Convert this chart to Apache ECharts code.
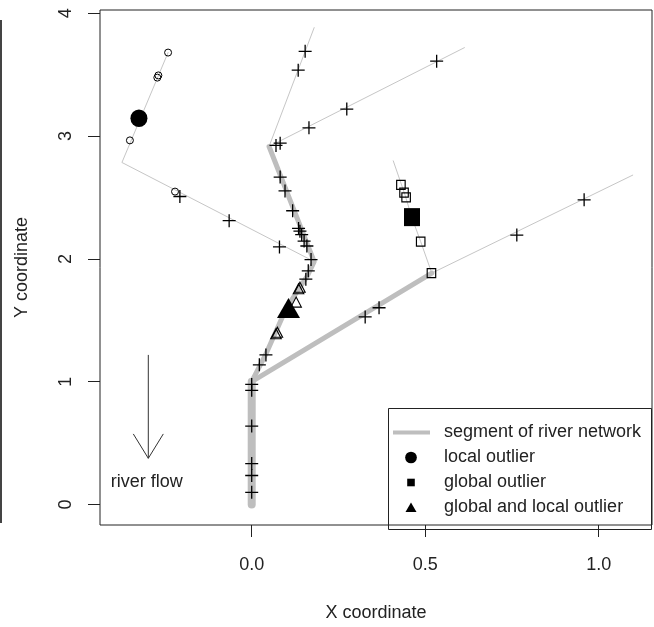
<!DOCTYPE html>
<html><head><meta charset="utf-8">
<script src="https://cdn.jsdelivr.net/npm/echarts@6/dist/echarts.min.js"></script>
<style>html,body{margin:0;padding:0;background:#fff}#c{width:654px;height:627px}</style>
</head><body><div id="c"></div>
<script>
// ---------- data (data units) ----------
const xTicks = [0, 0.5, 1.0];
const yTicks = [0, 1, 2, 3, 4];

// river network segments
const trunkThick = [[0, 0], [0, 1.0]];
const branchAThick = [[0, 1.0], [0.04, 1.22], [0.10, 1.60], [0.16, 1.86], [0.18, 1.978], [0.05, 2.915]];
const branchBThick = [[0, 1.0], [0.519, 1.884]];
const upperThin = [[0.05, 2.915], [0.18, 3.883]];
const upperRightThin = [[0.05, 2.915], [0.613, 3.72]];
const leftThin = [[0.18, 1.978], [-0.374, 2.785], [-0.241, 3.68]];
const rightThin = [[0.519, 1.884], [1.098, 2.682]];
const squareThin = [[0.519, 1.884], [0.487, 2.14], [0.461, 2.341], [0.442, 2.519], [0.408, 2.798]];

// observations (+)
const crossPoints = [
  [0, 0.978], [0, 0.93], [0, 0.639], [0, 0.333], [0, 0.236], [0, 0.099],
  [0.022, 1.137], [0.041, 1.218], [0.156, 1.835], [0.163, 1.903], [0.171, 1.994],
  [0.159, 2.105], [0.151, 2.145], [0.144, 2.198], [0.139, 2.226], [0.135, 2.248],
  [0.118, 2.392], [0.096, 2.553], [0.082, 2.666], [0.082, 2.942], [0.07, 2.924],
  [0.154, 3.69], [0.134, 3.537],
  [0.165, 3.067], [0.274, 3.22], [0.533, 3.61],
  [-0.207, 2.508], [-0.065, 2.311], [0.080, 2.097],
  [0.327, 1.527], [0.367, 1.602], [0.764, 2.194], [0.958, 2.481]
];
const openCircles = [[-0.241, 3.68], [-0.269, 3.494], [-0.272, 3.476], [-0.351, 2.965], [-0.221, 2.548]];
const localOutlier = [[-0.325, 3.145]];
const openSquares = [[0.430, 2.602], [0.439, 2.54], [0.445, 2.5], [0.487, 2.14], [0.518, 1.884]];
const globalOutlier = [[0.462, 2.34]];
const openTriangles = [[0.074, 1.403], [0.070, 1.39], [0.139, 1.769], [0.135, 1.757], [0.128, 1.648]];
const globalLocalOutlier = [[0.106, 1.601]];

// annotation (data units)
const arrowFrom = [-0.298, 1.218];
const arrowTo = [-0.298, 0.376];
const flowLabelAt = [-0.3026, 0.18];
const flowLabel = 'river flow';

const legendNames = ['segment of river network', 'local outlier', 'global outlier', 'global and local outlier'];

// ---------- styling ----------
const X_MIN = -0.4372, X_MAX = 1.1536;
const Y_MIN = -0.1669, Y_MAX = 4.0266;
const FONT = '"Liberation Sans", Arial, sans-serif';
const FS = 18;
const TXT = '#222';
const THIN = '#c6c6c6';
const THICK = '#bebebe';
const CROSS = 'path://M6.5,0V13M0,6.5H13';

function lineSeries(name, data, color, width) {
  return {
    type: 'line', name: name, data: data, symbol: 'none', showSymbol: false, silent: true, z: 2,
    lineStyle: { color: color, width: width, cap: 'round', join: 'round' },
    emphasis: { disabled: true }
  };
}
function scatter(name, data, symbol, size, fill, stroke, bw, z) {
  return {
    type: 'scatter', name: name, data: data, symbol: symbol, symbolSize: size, silent: true, z: z,
    itemStyle: { color: fill, borderColor: stroke, borderWidth: bw, opacity: 1 },
    emphasis: { disabled: true }
  };
}

const series = [
  lineSeries('net', upperThin, THIN, 1),
  lineSeries('net', upperRightThin, THIN, 1),
  lineSeries('net', leftThin, THIN, 1),
  lineSeries('net', rightThin, THIN, 1),
  lineSeries('net', squareThin, THIN, 1),
  lineSeries(legendNames[0], trunkThick, THICK, 8),
  lineSeries(legendNames[0], branchAThick, THICK, 5),
  lineSeries(legendNames[0], branchBThick, THICK, 5),
  scatter('obs', crossPoints, CROSS, 13, 'transparent', '#000', 1.3, 5),
  scatter('obsc', openCircles, 'circle', 7, 'transparent', '#000', 1, 5),
  scatter('obss', openSquares, 'rect', [8.5, 9], 'transparent', '#000', 1.2, 5),
  scatter('obst', openTriangles, 'triangle', [10.5, 10], 'transparent', '#000', 1.1, 5),
  scatter(legendNames[1], localOutlier, 'circle', [17, 17.5], '#000', '#000', 0, 6),
  scatter(legendNames[2], globalOutlier, 'rect', [16, 18], '#000', '#000', 0, 6),
  scatter(legendNames[3], globalLocalOutlier, 'triangle', [23, 20], '#000', '#000', 0, 6)
];

// legend icons (37 x 18 box, invisible bounds via moveTo)
const BOX = 'M0,0M37,18';
const iconLine = 'path://' + BOX + 'M0,7L37,7L37,11L0,11Z';
const iconCircle = 'path://' + BOX + 'M12.15,9A5.85,5.85,0,1,0,23.85,9A5.85,5.85,0,1,0,12.15,9Z';
const iconSquare = 'path://' + BOX + 'M14.2,5.2L21.8,5.2L21.8,12.8L14.2,12.8Z';
const iconTri = 'path://' + BOX + 'M18,4L23.5,13.5L12.5,13.5Z';

const axisText = { fontFamily: FONT, fontSize: FS, color: TXT };

const chart = echarts.init(document.getElementById('c'), null, { renderer: 'canvas' });
const option = {
  animation: false,
  backgroundColor: '#fff',
  grid: { left: 100, top: 10, right: 2, bottom: 97, show: true, borderColor: '#222', borderWidth: 1, backgroundColor: 'transparent', containLabel: false },
  xAxis: {
    type: 'value', min: X_MIN, max: X_MAX,
    splitLine: { show: false },
    axisLine: { show: false, onZero: false },
    axisTick: { show: true, length: 12, customValues: xTicks, lineStyle: { color: '#222', width: 1 } },
    axisLabel: Object.assign({ customValues: xTicks, margin: 31, formatter: v => v.toFixed(1) }, axisText),
    name: 'X coordinate', nameLocation: 'middle', nameGap: 79, nameTextStyle: axisText
  },
  yAxis: {
    type: 'value', min: Y_MIN, max: Y_MAX,
    splitLine: { show: false },
    axisLine: { show: false, onZero: false },
    axisTick: { show: true, length: 12, customValues: yTicks, lineStyle: { color: '#222', width: 1 } },
    axisLabel: Object.assign({ customValues: yTicks, margin: 25, rotate: 90, formatter: v => String(v) }, axisText),
    name: 'Y coordinate', nameLocation: 'middle', nameGap: 69, nameRotate: 90, nameTextStyle: axisText
  },
  legend: {
    left: 393, top: 423, orient: 'vertical', padding: 0,
    itemWidth: 37, itemHeight: 18, itemGap: 6, selectedMode: false,
    textStyle: { fontFamily: FONT, fontSize: FS, color: TXT, lineHeight: 19, padding: [0, 0, 0, 9] },
    data: [
      { name: legendNames[0], icon: iconLine, itemStyle: { color: THICK, borderWidth: 0 } },
      { name: legendNames[1], icon: iconCircle, itemStyle: { color: '#000', borderWidth: 0 } },
      { name: legendNames[2], icon: iconSquare, itemStyle: { color: '#000', borderWidth: 0 } },
      { name: legendNames[3], icon: iconTri, itemStyle: { color: '#000', borderWidth: 0 } }
    ]
  },
  series: series
};
chart.setOption(option);

// annotations positioned through the chart's own scales
const pFrom = chart.convertToPixel({ gridIndex: 0 }, arrowFrom);
const pTo = chart.convertToPixel({ gridIndex: 0 }, arrowTo);
const pLab = chart.convertToPixel({ gridIndex: 0 }, flowLabelAt);
const HEAD_DX = 15, HEAD_DY = 24.4;
chart.setOption({
  graphic: [
    { type: 'line', silent: true, shape: { x1: 1, y1: 20, x2: 1, y2: 523 }, style: { stroke: '#444', lineWidth: 2 } },
    { type: 'rect', silent: true, shape: { x: 388.5, y: 408.5, width: 263, height: 121 }, style: { fill: 'transparent', stroke: '#222', lineWidth: 1 }, z: 10 },
    { type: 'line', silent: true, shape: { x1: pFrom[0], y1: pFrom[1], x2: pTo[0], y2: pTo[1] }, style: { stroke: '#333', lineWidth: 1 } },
    { type: 'polyline', silent: true, shape: { points: [[pTo[0] - HEAD_DX, pTo[1] - HEAD_DY], [pTo[0], pTo[1]], [pTo[0] + HEAD_DX, pTo[1] - HEAD_DY]] }, style: { stroke: '#333', lineWidth: 1, fill: null } },
    { type: 'text', silent: true, x: pLab[0], y: pLab[1], style: { text: flowLabel, font: FS + 'px ' + FONT, fill: TXT, align: 'center', verticalAlign: 'middle' } }
  ]
});
</script>
</body></html>
